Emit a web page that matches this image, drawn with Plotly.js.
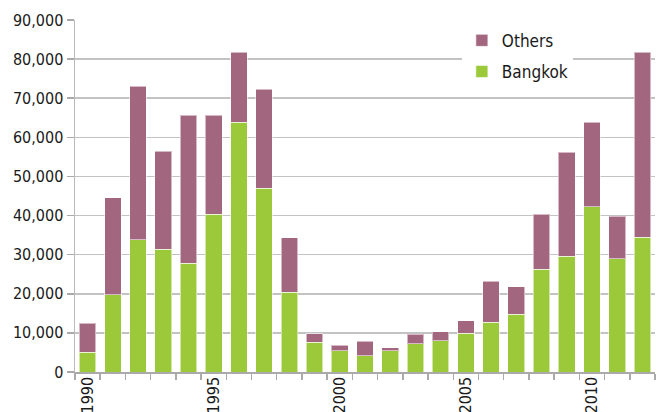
<!DOCTYPE html>
<html>
<head>
<meta charset="utf-8">
<script src="https://cdn.plot.ly/plotly-3.0.1.min.js"></script>
<style>html,body{margin:0;padding:0;background:#fff}#chart{width:661px;height:412px}</style>
</head>
<body>
<div id="chart"></div>
<script>
const years = ['1990','1991','1992','1993','1994','1995','1996','1997','1998','1999','2000','2001','2002','2003','2004','2005','2006','2007','2008','2009','2010','2011','2012'];
const bangkok = [5100,19800,33800,31400,27800,40300,63800,47000,20400,7600,5400,4100,5400,7200,8000,9900,12700,14800,26300,29600,42200,29000,34400];
const totals = [12500,44600,73000,56400,65600,65600,81800,72300,34300,9800,6800,7800,6200,9700,10300,13100,23200,21800,40300,56200,63900,39800,81700];
const others = totals.map((t, i) => t - bangkok[i]);
const tickLabels = ['1990','','','','','1995','','','','','2000','','','','','2005','','','','','2010','',''];
const yTicks = [0,10000,20000,30000,40000,50000,60000,70000,80000,90000];

const font = 'DejaVu Sans Condensed, Liberation Sans Narrow, sans-serif';
const edge = {color: 'rgba(255,255,255,0.55)', width: 1};

const data = [
  {type: 'bar', name: 'Bangkok', legendgroup: 'b', legendrank: 2, x: years, y: bangkok, marker: {color: '#9bc93a', line: edge}},
  {type: 'bar', name: 'Others', legendgroup: 'o', legendrank: 1, x: years, y: others, marker: {color: '#a3667f', line: edge}}
];

const layout = {
  width: 661, height: 412,
  margin: {l: 75, r: 6, t: 20, b: 40, pad: 0},
  barmode: 'stack',
  bargap: 0.34,
  paper_bgcolor: '#fff', plot_bgcolor: '#fff',
  font: {family: font, size: 16, color: '#1a1a1a'},
  showlegend: true,
  legend: {
    x: 0.667, y: 0.992, xanchor: 'left', yanchor: 'top',
    traceorder: 'grouped', tracegroupgap: 6, bgcolor: '#fff',
    font: {family: font, size: 17, color: '#1a1a1a'},
    itemwidth: 30
  },
  xaxis: {
    type: 'category',
    tickmode: 'array', tickvals: years, ticktext: tickLabels,
    tickson: 'boundaries', ticks: 'outside', ticklen: 6, tickcolor: '#aaa', tickwidth: 1.5,
    tickangle: -90, ticklabelstandoff: -3, showline: true, linecolor: '#aaa', linewidth: 1.5,
    showgrid: false, automargin: false, zeroline: false,
    tickfont: {family: font, size: 16, color: '#1a1a1a'}
  },
  yaxis: {
    range: [0, 90000], tickvals: yTicks, tickformat: ',d',
    ticks: 'outside', ticklen: 7, tickcolor: '#aaa', tickwidth: 1.5,
    showline: true, linecolor: '#bbb', linewidth: 1.5,
    showgrid: true, gridcolor: '#c3c3c3', gridwidth: 1.5,
    zeroline: false, automargin: false,
    tickfont: {family: font, size: 16, color: '#1a1a1a'}
  }
};

Plotly.newPlot('chart', data, layout, {displayModeBar: false, staticPlot: true});
</script>
</body>
</html>
